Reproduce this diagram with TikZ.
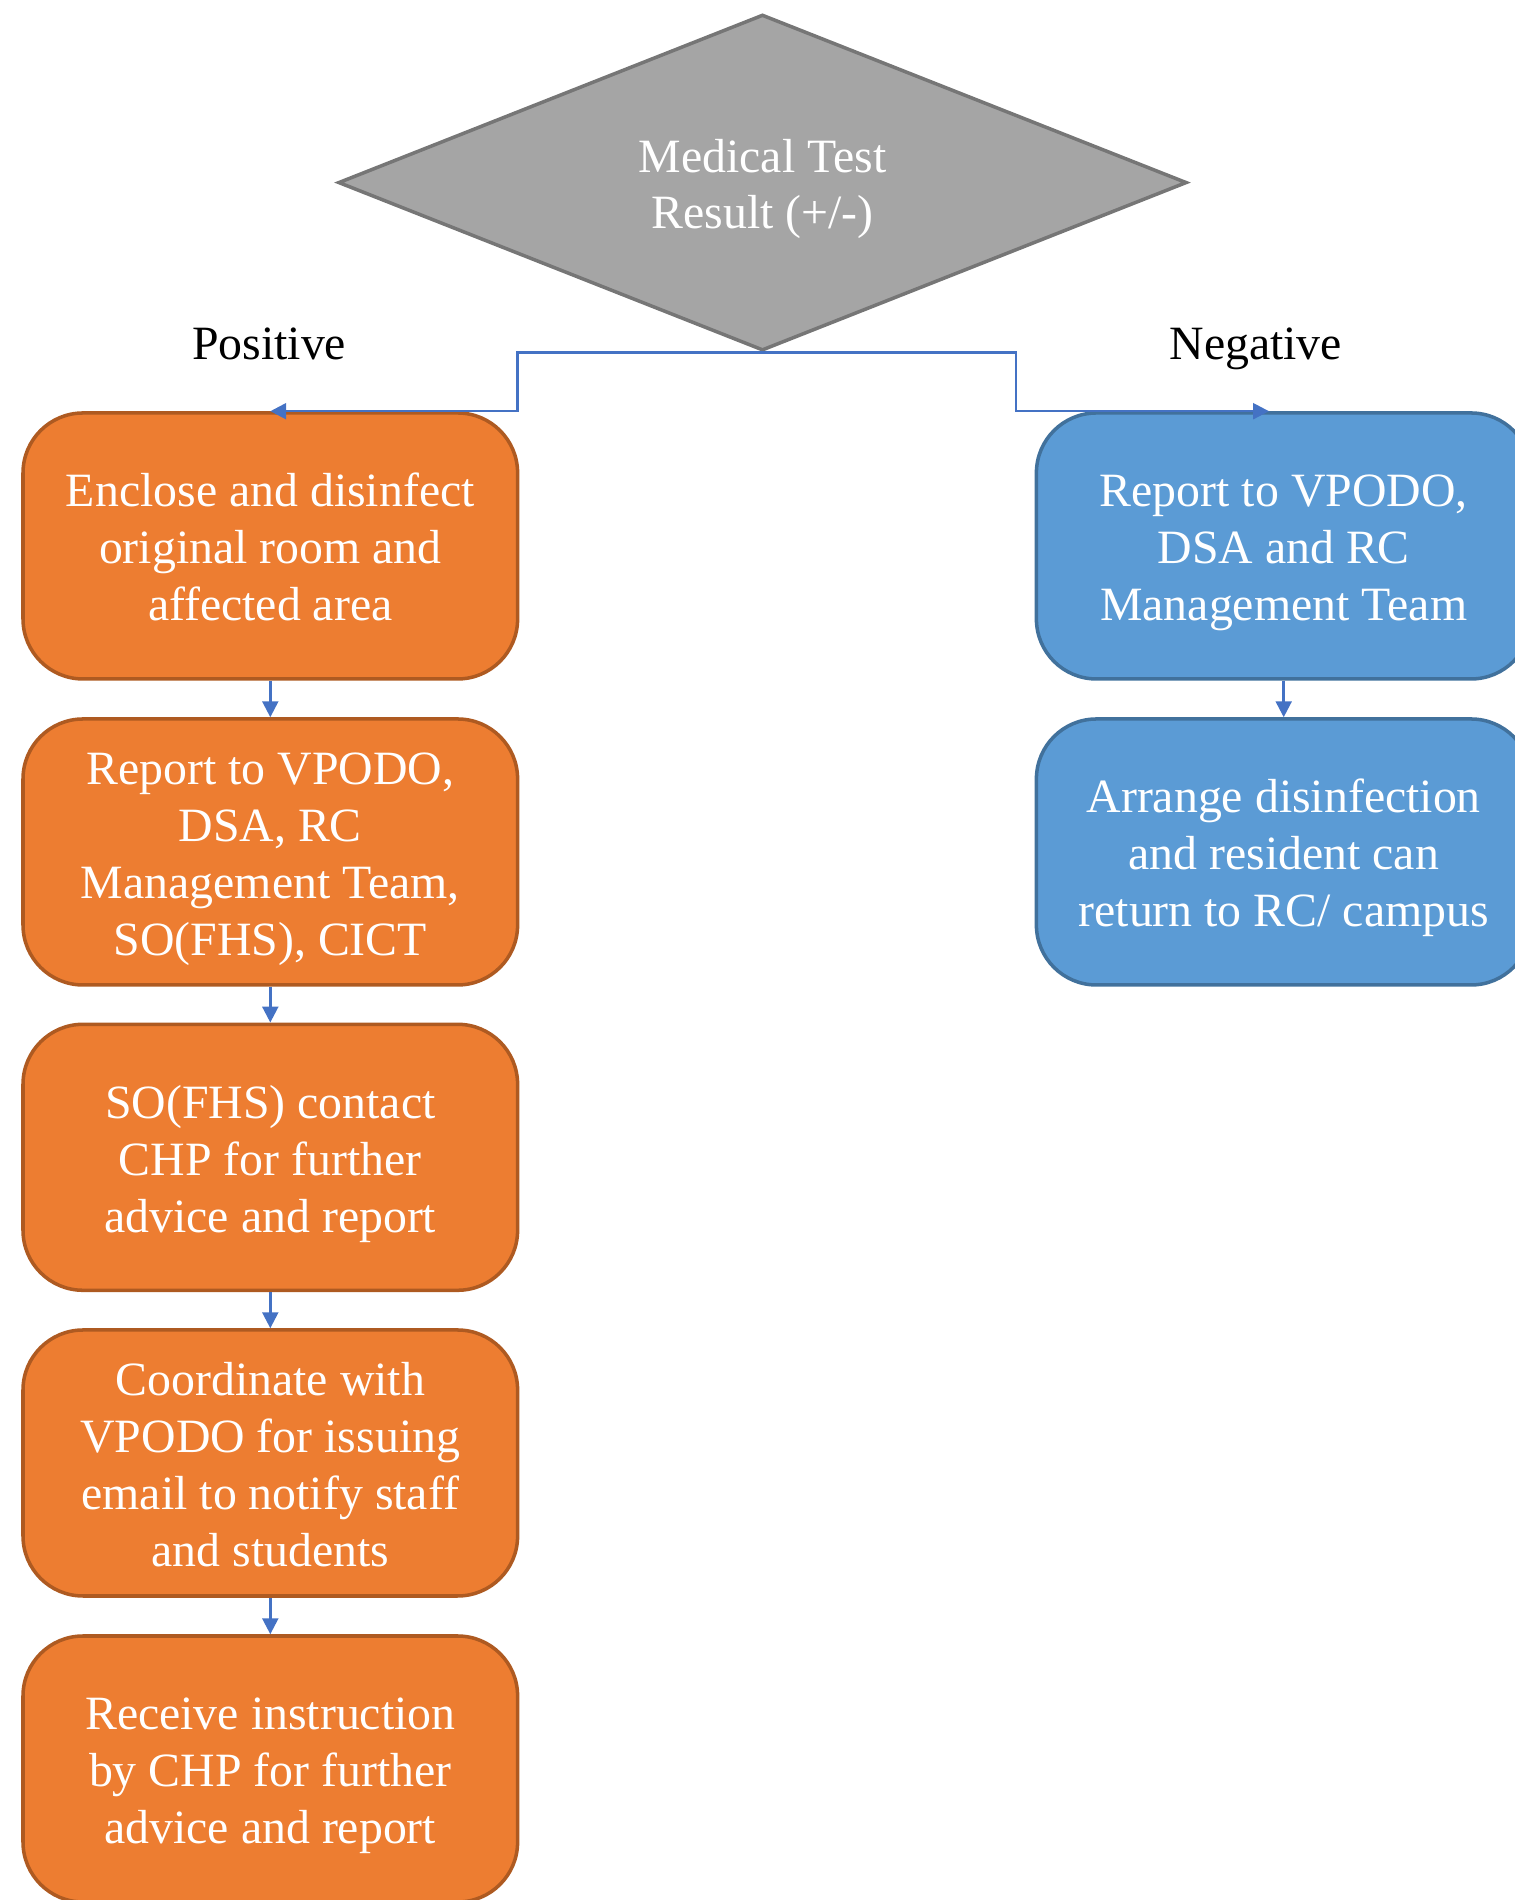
\documentclass[tikz,border=0pt]{standalone}
\usepackage{fontspec}
\setmainfont{Liberation Serif}
\usetikzlibrary{shapes.geometric,arrows.meta}

\definecolor{boxorange}{HTML}{ED7D31}
\definecolor{orangeline}{HTML}{AE5A21}
\definecolor{boxblue}{HTML}{5B9BD5}
\definecolor{blueline}{HTML}{41719C}
\definecolor{testgray}{HTML}{A5A5A5}
\definecolor{grayline}{HTML}{767676}
\definecolor{linkblue}{HTML}{4472C4}

\newcommand{\tstrut}{\rule{0pt}{13.6pt}}
\newcommand{\bstrut}{\rule[-3.4pt]{0pt}{3.4pt}}

\begin{document}
\begin{tikzpicture}[font=\fontsize{13.6}{16.2}\selectfont,
  wordtext/.style={text=white, align=center, inner sep=0pt},
  stepbox/.style={wordtext, rounded corners=0.6cm, line width=1pt,
    minimum width=4.946cm, minimum height=2.66cm},
  posbox/.style={stepbox, draw=orangeline, fill=boxorange},
  negbox/.style={stepbox, draw=blueline, fill=boxblue},
  link/.style={draw=linkblue, line width=0.7pt, -{Triangle[width=4.5pt,length=4.5pt]}}]
\useasboundingbox (0,0) rectangle (15.14,19);

\node[diamond, aspect=2.5, wordtext, draw=grayline, fill=testgray, line width=1pt,
  minimum width=8.486cm, minimum height=3.36cm] (t) at (7.625,17.174) {\tstrut Medical Test\\Result (+/-)\bstrut};

\node[anchor=base] (pos) at (2.691,15.40) {Positive};
\node[anchor=base] (neg) at (12.558,15.40) {Negative};

% positive branch
\node[posbox] (p1) at (2.703,13.54) {\tstrut Enclose and disinfect\\original room and\\affected area\bstrut};
\node[posbox] (p2) at (2.703,10.48) {\tstrut Report to VPODO,\\DSA, RC\\Management Team,\\SO(FHS), CICT\bstrut};
\node[posbox] (p3) at (2.703,7.427) {\tstrut SO(FHS) contact\\CHP for further\\advice and report\bstrut};
\node[posbox] (p4) at (2.703,4.37) {\tstrut Coordinate with\\VPODO for issuing\\email to notify staff\\and students\bstrut};
\node[posbox] (p5) at (2.703,1.31) {\tstrut Receive instruction\\by CHP for further\\advice and report\bstrut};

% negative branch
\node[negbox] (n1) at (12.837,13.54) {\tstrut Report to VPODO,\\DSA and RC\\Management Team\bstrut};
\node[negbox] (n2) at (12.837,10.48) {\tstrut Arrange disinfection\\and resident can\\return to RC/ campus\bstrut};

\coordinate (lturn) at (5.176,14.873);
\coordinate (rturn) at (10.158,14.873);
\coordinate (ntip) at ([xshift=-0.147cm]n1.north);

\path[link] (t.south) -| (lturn |- p1.north) -- (p1.north);
\path[link] (t.south) -| (rturn |- ntip) -- (ntip);

\path[link] (p1) -- (p2);
\path[link] (p2) -- (p3);
\path[link] (p3) -- (p4);
\path[link] (p4) -- (p5);
\path[link] (n1) -- (n2);
\end{tikzpicture}
\end{document}
